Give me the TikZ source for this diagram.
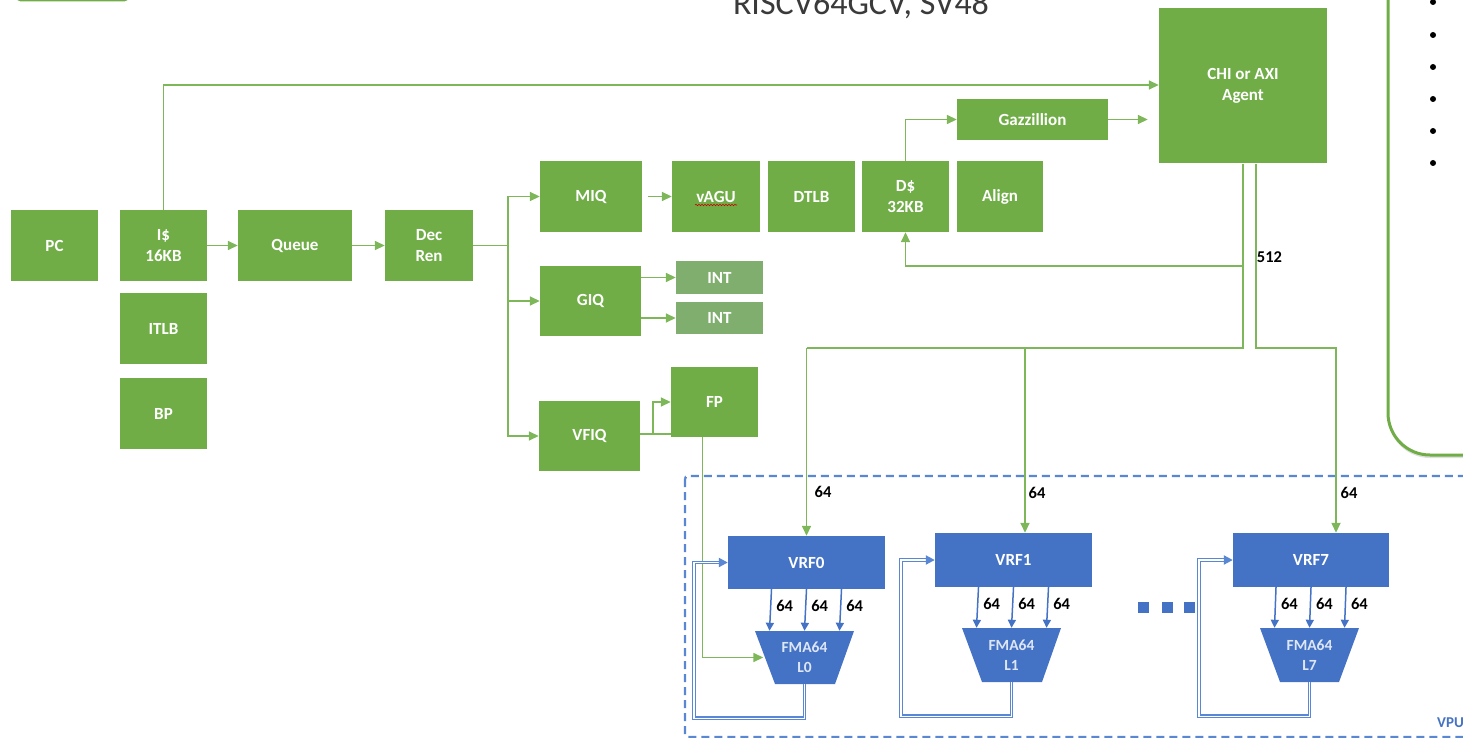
\documentclass[tikz,border=0pt]{standalone}
\usepackage{fontspec}
\setmainfont{Carlito}
\usetikzlibrary{arrows.meta,shadows,decorations.pathmorphing,calc}
\definecolor{G}{HTML}{70AD47}
\definecolor{GL}{HTML}{7DB75A}
\definecolor{GI}{HTML}{80AE6E}
\definecolor{V}{HTML}{4472C4}
\definecolor{VD}{HTML}{5A87D3}
\definecolor{FT}{HTML}{DDE6F6}
\definecolor{TT}{HTML}{3A3A3A}
\begin{document}
\begin{tikzpicture}[x=1pt,y=-1pt,
  sz/.style 2 args={minimum width=#1pt, minimum height=#2pt},
  blk/.style={fill=G, text=white, font=\fontsize{17}{21}\selectfont\bfseries, align=center, inner sep=0pt},
  vblk/.style={blk, fill=V},
  ftxt/.style={text=FT, font=\fontsize{15.5}{20}\selectfont\bfseries, align=center, inner sep=0pt},
  lbl/.style={text=black, font=\fontsize{16.5}{19}\selectfont\bfseries, inner sep=0pt},
  gline/.style={draw=GL, line width=1.6pt},
  garrow/.style={gline, -{Triangle[length=10pt,width=9pt]}},
  barrow/.style={draw=V, line width=1.5pt, -{Triangle[length=8pt,width=8pt]}},
  bloop/.style={draw=VD, line width=1.1pt, double=white, double distance=1.4pt},
  btip/.style={draw=VD, line width=2pt, -{Triangle[length=9pt,width=9pt]}}]
\useasboundingbox (0,0) rectangle (1463,738);
\clip (0,0) rectangle (1463,738);

% title and frame fragments
\node[font=\fontsize{34}{40}\selectfont, text=TT, anchor=base] (title) at (861,15) {RISCV64GCV, SV48};
\draw[G, line width=2pt, rounded corners=4pt] (17,-40) rectangle (128,0.5);

% notes panel
\draw[G, line width=3pt, rounded corners=42pt, fill=white,
      drop shadow={shadow xshift=0pt, shadow yshift=-3pt, opacity=0.25}] (1388,-60) rectangle (1560,455);
\foreach \yy in {2,35,67,99,131,163} \fill (1433,\yy) circle (3pt);

% vector unit frame
\draw[VD, line width=2.4pt, dash pattern=on 8pt off 5pt, rounded corners=3pt] (685,476) rectangle (1520,737);
\node[font=\fontsize{15}{18}\selectfont\bfseries, text=V, anchor=base west, inner sep=0pt] (vpu) at (1437,727) {VPU};

% front end
\node[blk,sz={87}{71}] (PC) at (54.5,245.5) {PC};
\node[blk,sz={87}{71}] (IC) at (163.5,245.5) {I\$\\16KB};
\node[blk,sz={114}{71}] (QU) at (295,245.5) {Queue};
\node[blk,sz={88}{71}] (DR) at (429,245.5) {Dec\\Ren};
\node[blk,sz={87}{71}] (ITLB) at (163.5,328.5) {ITLB};
\node[blk,sz={87}{71}] (BP) at (163.5,413.5) {BP};

% issue queues and execution
\node[blk,sz={102}{71}] (MIQ) at (591,196.5) {MIQ};
\node[blk,sz={88}{71}] (AGU) at (716,196.5) {vAGU};
\node[blk,sz={87}{71}] (DTLB) at (811.5,196.5) {DTLB};
\node[blk,sz={87}{71}] (DC) at (905.5,196.5) {D\$\\32KB};
\node[blk,sz={86}{71}] (AL) at (1000,196.5) {Align};
\node[blk,sz={151}{41}] (GZ) at (1032.5,119.5) {Gazzillion};
\node[blk,sz={168}{155}] (CHI) at (1243,86) {CHI or AXI\\Agent};
\node[blk,sz={101}{70}] (GIQ) at (590.5,301) {GIQ};
\node[blk,fill=GI,sz={87}{33}] (INTa) at (719.5,277.5) {INT};
\node[blk,fill=GI,sz={87}{32}] (INTb) at (719.5,318) {INT};
\node[blk,sz={87}{70}] (FP) at (714.5,402) {FP};
\node[blk,sz={101}{70}] (VFIQ) at (589.5,436) {VFIQ};
\draw[red!80!black, line width=0.6pt, decorate, decoration={snake, amplitude=0.7pt, segment length=3pt}] (695,205) -- (737,205);

% vector lanes
\node[vblk,sz={157}{53}] (VRF0) at (806.5,562.5) {VRF0};
\node[vblk,sz={157}{54}] (VRF1) at (1013.5,560) {VRF1};
\node[vblk,sz={156}{54}] (VRF7) at (1311,560) {VRF7};
\fill[V] (755,631) -- (854,631) -- (835,684) -- (775,684) -- cycle;
\node[ftxt,sz={60}{53}] (F0) at (804.5,657.5) {FMA64\\L0};
\fill[V] (962,628) -- (1061,628) -- (1042,682) -- (982,682) -- cycle;
\node[ftxt,sz={60}{54}] (F1) at (1011.5,655) {FMA64\\L1};
\fill[V] (1260,628) -- (1359,628) -- (1339,682) -- (1280,682) -- cycle;
\node[ftxt,sz={60}{54}] (F7) at (1309.5,655) {FMA64\\L7};
\foreach \xx in {1138,1162,1184} \fill[V] (\xx,602) rectangle ++(11,11);

% front-end connections
\draw[garrow] (IC.north) |- (CHI.west |- 0,85);
\draw[garrow] (IC) -- (QU);
\draw[garrow] (QU) -- (DR);
\coordinate (tr) at (508,245.5);
\draw[gline] (DR.east) -- (tr);
\draw[garrow] (tr) |- (MIQ.west);
\draw[garrow] (tr) |- (GIQ.west);
\draw[garrow] (tr) |- (VFIQ.west);
\draw[garrow] ([xshift=6pt]MIQ.east) -- (AGU.west);
\draw[garrow] (GIQ.east |- INTa.west) -- (INTa.west);
\draw[garrow] (GIQ.east |- INTb.west) -- (INTb.west);
\coordinate (vf) at ([yshift=2pt]VFIQ.east);
\draw[gline] (vf) -- (vf -| FP.west);
\coordinate (vb) at ($(vf)+(13,0)$);
\draw[garrow] (vb) |- (FP.west);
\draw[garrow] ([xshift=-12pt]FP.south) |- ([xshift=-11pt]F0.west);

% memory side
\draw[garrow] (DC.north) |- (GZ.west);
\coordinate (ci) at ([xshift=-11pt]CHI.west);
\draw[garrow] (GZ.east) -- (ci |- GZ.east);
\coordinate (cl) at (CHI.south);
\coordinate (cr) at ([xshift=13pt]CHI.south);
\draw[garrow] (cl) -- (cl |- 0,266) -| (DC.south);
\draw[gline] (cl |- 0,266) -- (cl |- 0,348) -- (VRF0.north |- 0,348);
\draw[garrow] (VRF0.north |- 0,348) -- (VRF0.north);
\coordinate (v1) at ([xshift=11.5pt]VRF1.north);
\draw[garrow] (v1 |- 0,348) -- (v1);
\coordinate (v7) at ([xshift=25pt]VRF7.north);
\draw[garrow] (cr) -- (cr |- 0,348) -| (v7);
\node[lbl] (w512) at (1269.5,257) {512};
\node[lbl] (w0) at (823,492) {64};
\node[lbl] (w1) at (1037,493) {64};
\node[lbl] (w7) at (1349,493) {64};

% register file to FMA operands and write-back loops
\foreach \vrf/\fma in {VRF0/F0, VRF1/F1, VRF7/F7} {
  \foreach \d in {-35,0,35} {
    \draw[barrow] ([xshift=\d pt]\vrf.south) -- ([xshift=\d pt]\fma.north);
    \path ([xshift=\d pt]\vrf.south) -- ([xshift=\d pt]\fma.north) node[lbl, pos=0.4, xshift=14pt] {64};
  }
  \coordinate (lp) at ([xshift=-34pt]\vrf.west);
  \draw[bloop] (\fma.south) -- ++(0,34) -| (lp) -- ([xshift=-8pt]\vrf.west);
  \draw[btip] ([xshift=-9pt]\vrf.west) -- (\vrf.west);
}
\end{tikzpicture}
\end{document}
